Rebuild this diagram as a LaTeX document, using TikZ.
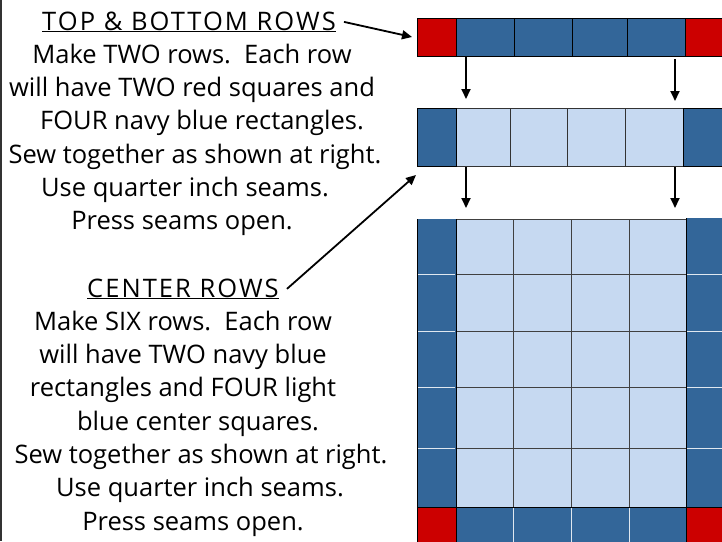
\documentclass[tikz,border=0pt]{standalone}
\usepackage{fontspec}
\setmainfont{Open Sans}
\newfontfamily\headfont[LetterSpace=8]{Open Sans}
\usetikzlibrary{arrows.meta}

\definecolor{quiltred}{HTML}{CC0000}
\definecolor{quiltnavy}{HTML}{336699}
\definecolor{quiltlight}{HTML}{C6D9F1}

\tikzset{
  note/.style={anchor=base, inner sep=0pt, font=\fontsize{25.5}{33}\selectfont},
  heading/.style={note, inner xsep=8pt, font=\fontsize{25.5}{33}\headfont},
  pointer/.style={-{Triangle[length=10pt,width=9pt]}, line width=1.8pt},
  redcell/.style={fill=quiltred, draw=black, line width=0.8pt},
  navycell/.style={fill=quiltnavy, draw=black, line width=0.8pt},
  lightcell/.style={fill=quiltlight, draw=black!80, line width=0.8pt},
  seam/.style={white!85!quiltnavy, line width=1pt},
  grid seam/.style={black!75, line width=1pt}
}

\begin{document}
\begin{tikzpicture}[x=1pt, y=-1pt, >=stealth]
    \clip (0,0) rectangle (722,541);
    \fill[white] (0,0) rectangle (722,541);
    \draw[line width=1.5pt, black!80] (1,0) -- (1,541);

    % Instructions for the top and bottom rows
    \node[heading] (top-head) at (189,30) {\underline{TOP \& BOTTOM ROWS}};
    \foreach \cx/\txt [count=\i] in {
        192/Make TWO rows.\ \ Each row,
        192/will have TWO red squares and,
        202/FOUR navy blue rectangles.,
        195/Sew together as shown at right.,
        185/Use quarter inch seams.,
        182/Press seams open.}
      \node[note] (top-\i) at (\cx,30+33.3*\i) {\txt};

    % Instructions for the center rows
    \node[heading] (ctr-head) at (183,297) {\underline{CENTER ROWS}};
    \foreach \cx/\txt [count=\i] in {
        183/Make SIX rows.\ \ Each row,
        183/will have TWO navy blue,
        183/rectangles and FOUR light,
        198/blue center squares.,
        201/Sew together as shown at right.,
        200/Use quarter inch seams.,
        193/Press seams open.}
      \node[note] (ctr-\i) at (\cx,297+33.3*\i) {\txt};

    % Top row
    \foreach \xa/\xb in {456/514, 514/572, 572/627, 627/685}
      \filldraw[navycell] (\xa,18) rectangle (\xb,56);
    \filldraw[redcell] (417,18) rectangle (456,56);
    \filldraw[redcell] (685,18) rectangle (730,56);

    % Center row
    \foreach \xa/\xb in {456/510, 510/567, 567/625, 625/683}
      \filldraw[lightcell] (\xa,108) rectangle (\xb,166);
    \filldraw[navycell] (417,108) rectangle (456,166);
    \filldraw[navycell] (683,108) rectangle (730,166);

    % Assembled quilt
    \fill[quiltlight] (456,219) rectangle (686,507);
    \fill[quiltnavy] (417,219) rectangle (456,507);
    \fill[quiltnavy] (686,218) rectangle (730,507);
    \foreach \x in {513, 571, 629}
      \draw[grid seam] (\x,219) -- (\x,507);
    \foreach \y in {274, 331, 387, 448} {
      \draw[grid seam] (456,\y) -- (686,\y);
      \draw[seam] (417,\y) -- (455,\y);
      \draw[seam] (687,\y) -- (730,\y);
    }
    \draw[grid seam] (456,219) -- (686,219);
    \fill[quiltnavy] (456,507) rectangle (686,545);
    \foreach \x in {513, 571, 629}
      \draw[seam] (\x,508) -- (\x,545);
    \filldraw[redcell] (417,507) rectangle (456,545);
    \filldraw[redcell] (686,507) rectangle (730,545);
    \draw[black, line width=0.8pt] (417,507) -- (730,507);
    \draw[black, line width=0.8pt] (417,219) -- (417,545);
    \draw[black, line width=0.8pt] (456,219) -- (456,545);
    \draw[black, line width=0.8pt] (686,218) -- (686,545);

    % Arrow ends
    \coordinate (top-tip) at (412,37);
    \coordinate (ctr-tip) at (416,175);
    \coordinate (topL-a) at (466,57);  \coordinate (topL-b) at (466,99);
    \coordinate (topR-a) at (675,59);  \coordinate (topR-b) at (675,101);
    \coordinate (ctrL-a) at (466,167); \coordinate (ctrL-b) at (466,208);
    \coordinate (ctrR-a) at (675,167); \coordinate (ctrR-b) at (675,208);

    \draw[pointer] (top-head.east) -- (top-tip);
    \draw[pointer] (ctr-head.east) -- (ctr-tip);
    \draw[pointer] (topL-a) -- (topL-b);
    \draw[pointer] (topR-a) -- (topR-b);
    \draw[pointer] (ctrL-a) -- (ctrL-b);
    \draw[pointer] (ctrR-a) -- (ctrR-b);
\end{tikzpicture}
\end{document}
